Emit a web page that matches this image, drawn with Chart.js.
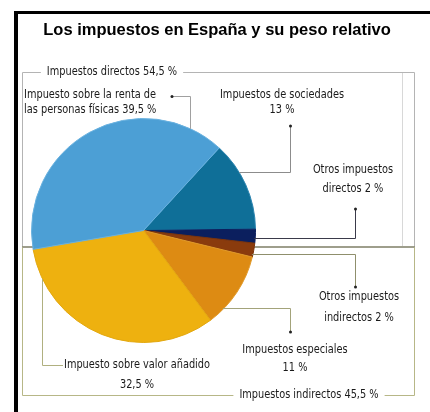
<!DOCTYPE html>
<html>
<head>
<meta charset="utf-8">
<script src="https://cdn.jsdelivr.net/npm/chart.js@4.4.1/dist/chart.umd.min.js"></script>
<style>
html,body{margin:0;padding:0;background:#fff;}
canvas{display:block;}
</style>
</head>
<body>
<canvas id="c" width="430" height="412"></canvas>
<script>
// ---- data ----
const categories = ["Impuestos de sociedades", "Otros impuestos directos", "Otros impuestos indirectos", "Impuestos especiales", "Impuesto sobre valor añadido", "Impuesto sobre la renta de las personas físicas"];
const values = [13, 2, 2, 11, 32.5, 39.5];
const sliceColors = ["#0f6f98", "#0b1f5e", "#8a3b0d", "#dd8b13", "#eeb10f", "#4c9fd5"];
const titleText = "Los impuestos en España y su peso relativo";
const groupLabels = ["Impuestos directos 54,5 %", "Impuestos indirectos 45,5 %"];
const sliceLabels = [
  ["Impuestos de sociedades", "13 %"],
  ["Otros impuestos", "directos 2 %"],
  ["Otros impuestos", "indirectos 2 %"],
  ["Impuestos especiales", "11 %"],
  ["Impuesto sobre valor añadido", "32,5 %"],
  ["Impuesto sobre la renta de", "las personas físicas 39,5 %"]
];

const NARROW = "'Liberation Sans Narrow','DejaVu Sans Condensed',sans-serif";
const SX = 0.87;

const decor = {
  id: 'decor',
  beforeDraw(chart) {
    const ctx = chart.ctx;
    ctx.save();
    ctx.fillStyle = '#fff';
    ctx.fillRect(0, 0, 430, 412);
    ctx.fillStyle = '#000';
    ctx.fillRect(14, 11, 416, 3);
    ctx.fillRect(14, 11, 4, 401);
    ctx.lineWidth = 1;
    // upper box (directos)
    ctx.strokeStyle = '#b4b4b4';
    ctx.beginPath();
    ctx.moveTo(22.5, 246.5); ctx.lineTo(22.5, 72.5); ctx.lineTo(414.5, 72.5); ctx.lineTo(414.5, 246.5);
    ctx.stroke();
    ctx.strokeStyle = '#d8d8d8';
    ctx.beginPath(); ctx.moveTo(402.5, 73); ctx.lineTo(402.5, 246); ctx.stroke();
    // separator
    ctx.strokeStyle = '#7e7e66';
    ctx.lineWidth = 1.6;
    ctx.beginPath(); ctx.moveTo(22, 247); ctx.lineTo(415, 247); ctx.stroke();
    // lower box (indirectos)
    ctx.lineWidth = 1;
    ctx.strokeStyle = '#b7b787';
    ctx.beginPath();
    ctx.moveTo(22.5, 247.5); ctx.lineTo(22.5, 395.5); ctx.lineTo(414.5, 395.5); ctx.lineTo(414.5, 247.5);
    ctx.stroke();
    ctx.restore();
  },
  afterDraw(chart) {
    const ctx = chart.ctx;
    const arc = chart.getDatasetMeta(0).data[0];
    const cx = arc.x, cy = arc.y, r = arc.outerRadius;
    const edgeYTop = x => cy - Math.sqrt(Math.max(r*r - (x-cx)*(x-cx), 0));
    const edgeYBot = x => cy + Math.sqrt(Math.max(r*r - (x-cx)*(x-cx), 0));
    const edgeXRight = y => cx + Math.sqrt(Math.max(r*r - (y-cy)*(y-cy), 0));
    ctx.save();
    ctx.textBaseline = 'middle';
    // title
    ctx.fillStyle = '#000';
    ctx.font = "bold 16.5px 'Liberation Sans',Arial,sans-serif";
    ctx.textAlign = 'center';
    ctx.fillText(titleText, 217, 30);

    ctx.font = "12.5px " + NARROW;
    const draw = (t, x, y, align) => {
      ctx.save();
      ctx.translate(x, y);
      ctx.scale(SX, 1);
      ctx.textAlign = align || 'center';
      ctx.fillStyle = '#1a1a1a';
      ctx.fillText(t, 0, 0);
      ctx.restore();
    };
    const glabel = (t, x, y) => {
      const w = ctx.measureText(t).width * SX;
      ctx.fillStyle = '#fff';
      ctx.fillRect(x - w/2 - 6, y - 3, w + 12, 6);
      draw(t, x, y);
    };
    glabel(groupLabels[0], 112, 72);
    glabel(groupLabels[1], 309, 395);

    const lines = (ls, x, y, align, lh) => ls.forEach((l, i) => draw(l, x, y + i * lh, align));
    lines(sliceLabels[5], 24, 95, 'left', 15);
    lines(sliceLabels[0], 282, 95, 'center', 15);
    lines(sliceLabels[1], 353, 170, 'center', 19);
    lines(sliceLabels[2], 359, 297, 'center', 21);
    lines(sliceLabels[3], 295, 350, 'center', 18);
    lines(sliceLabels[4], 137, 365, 'center', 20);

    // leader lines
    ctx.lineWidth = 1;
    const dot = (x, y) => { ctx.fillStyle = '#222'; ctx.beginPath(); ctx.arc(x, y, 1.5, 0, Math.PI*2); ctx.fill(); };
    const poly = (pts, color) => {
      ctx.strokeStyle = color;
      ctx.beginPath();
      pts.forEach((p, i) => i ? ctx.lineTo(p[0], p[1]) : ctx.moveTo(p[0], p[1]));
      ctx.stroke();
    };
    poly([[172, 96.5], [190.5, 96.5], [190.5, edgeYTop(190.5)]], '#a0a0a0');
    dot(172, 96.5);
    poly([[290.5, 126], [290.5, 172.5], [edgeXRight(172.5), 172.5]], '#8c8c8c');
    dot(290.5, 126);
    poly([[355.5, 209], [355.5, 238.5], [edgeXRight(238.5) - 1, 238.5]], '#3a3a4a');
    dot(355.5, 209);
    poly([[edgeXRight(254.5) - 1, 254.5], [355.5, 254.5], [355.5, 287]], '#8f8f6c');
    dot(355.5, 287);
    poly([[edgeXRight(308.5) - 1, 308.5], [290.5, 308.5], [290.5, 332]], '#a3a37a');
    dot(290.5, 332);
    poly([[42.5, edgeYBot(42.5)], [42.5, 365.5], [63, 365.5]], '#b0b080');
    ctx.restore();
  }
};

new Chart(document.getElementById('c'), {
  type: 'pie',
  data: {
    labels: categories,
    datasets: [{
      data: values,
      backgroundColor: sliceColors,
      borderColor: ["#2b84b0", "#0b1f5e", "#7a330b", "#e19a2a", "#e3a80f", "#6ab2e0"],
      borderWidth: 1
    }]
  },
  options: {
    responsive: false,
    animation: false,
    rotation: 42.5,
    layout: { padding: { left: 31, right: 174, top: 118, bottom: 69 } },
    plugins: { legend: { display: false }, tooltip: { enabled: false }, title: { display: false } }
  },
  plugins: [decor]
});
</script>
</body>
</html>
